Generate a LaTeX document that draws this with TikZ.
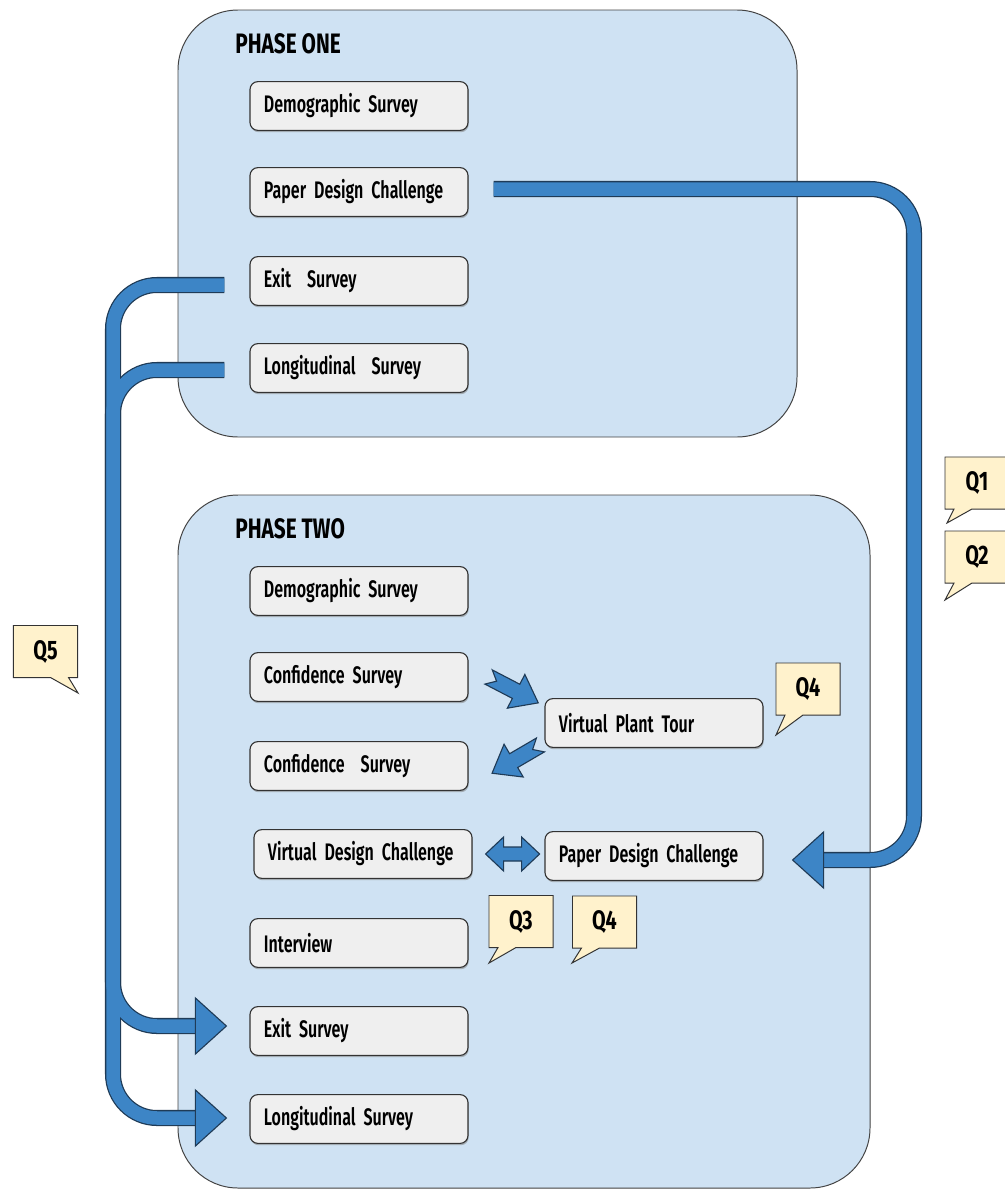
\documentclass[tikz,border=0pt]{standalone}
\usepackage{fontspec}
\setmainfont{Fira Sans}[FakeStretch=0.67, UprightFont=* SemiBold, BoldFont=* Bold]
\newfontfamily\headfont{Fira Sans}[FakeStretch=0.74, UprightFont=* Bold]
\usetikzlibrary{calc, shapes.callouts, shadows}

\definecolor{phasefill}{HTML}{CFE2F3}
\definecolor{phaseline}{HTML}{434343}
\definecolor{boxfill}{HTML}{EFEFEF}
\definecolor{boxline}{HTML}{333333}
\definecolor{flowblue}{HTML}{3D85C6}
\definecolor{flowline}{HTML}{1F3B57}
\definecolor{notefill}{HTML}{FFF2CC}

\tikzset{
	phase/.style={draw=phaseline, fill=phasefill, line width=0.7pt, rounded corners=1.5cm},
	phasetitle/.style={anchor=base west, inner sep=0pt, font=\fontsize{20}{22}\headfont},
	task/.style={draw=boxline, fill=boxfill, line width=0.8pt, rounded corners=0.2cm,
		minimum width=5.45cm, minimum height=1.22cm, text width=4.75cm, inner xsep=0.35cm,
		align=left, font=\fontsize{17}{19}\selectfont,
		drop shadow={shadow xshift=0.5pt, shadow yshift=-1.3pt, opacity=0.55}},
	note/.style={rectangle callout, draw=boxline, fill=notefill, line width=0.7pt,
		minimum width=1.6cm, minimum height=1.3cm, callout pointer width=0.45cm,
		font=\fontsize{19}{21}\headfont},
	shaftout/.style={draw=flowline, line width=11.4pt, rounded corners=1.1cm},
	shaftin/.style={draw=flowblue, line width=9.6pt, rounded corners=1.1cm},
	flowhead/.style={draw=flowline, fill=flowblue, line width=0.8pt, line join=miter},
	pics/bighead/.style={code={\draw[flowhead] (0,-28) -- (31,0) -- (0,28) -- cycle;}},
	pics/notchhead/.style={code={\draw[flowhead] (0,-8) -- (31,-8) -- (31,-19) -- (56,0)
		-- (31,19) -- (31,8) -- (0,8) -- (9,0) -- cycle;}},
	pics/twohead/.style={code={\draw[flowhead] (0,0) -- (18,-17) -- (18,-7) -- (36,-7)
		-- (36,-17) -- (54,0) -- (36,17) -- (36,7) -- (18,7) -- (18,17) -- cycle;}},
}

\begin{document}
\begin{tikzpicture}[x=0.025cm, y=-0.025cm]
	\clip (0,0) rectangle (1005,1190);
	
	% die beiden Phasen
	\draw[phase] (178,10) rectangle (797,437);
	\draw[phase] (178,495) rectangle (870,1188);
	\node[phasetitle] (t1) at (235,53) {PHASE ONE};
	\node[phasetitle] (t2) at (235,538) {PHASE TWO};
	
	% Phase 1
	\node[task] (p1demo) at (359,106) {Demographic Survey};
	\node[task] (p1paper) at (359,192) {Paper Design Challenge};
	\node[task] (p1exit) at (359,281) {Exit\ \ Survey};
	\node[task] (p1long) at (359,368) {Longitudinal\ \ Survey};
	
	% Phase 2
	\node[task] (p2demo) at (359,591) {Demographic Survey};
	\node[task] (p2conf) at (359,677) {Confidence Survey};
	\node[task] (p2conf2) at (359,766) {Confidence\ \ Survey};
	\node[task] (p2vdc) at (363,854) {Virtual Design Challenge};
	\node[task] (p2int) at (359,943) {Interview};
	\node[task] (p2exit) at (359,1031) {Exit Survey};
	\node[task] (p2long) at (359,1119) {Longitudinal Survey};
	\node[task] (tour) at (654,723) {Virtual Plant Tour};
	\node[task] (p2paper) at (654,856) {Paper Design Challenge};
	
	% dicke Pfeile
	\coordinate (rbase) at ($(p2paper.east)+(60,4)$);
	\coordinate (ebase) at ($(p2exit.west)+(-54,-5)$);
	\coordinate (lbase) at ($(p2long.west)+(-54,-1)$);
	\foreach \sty in {shaftout, shaftin} {
		\draw[\sty] ($(p1paper.east)+(25,-3)$) -| (914,500) |- (rbase);
		\draw[\sty] ($(p1exit.west)+(-25,4)$) -| (113,700) |- (ebase);
		\draw[\sty] ($(p1long.west)+(-25,2)$) -| (113,700) |- (lbase);
	}
	\pic[rotate=180] at (rbase) {bighead};
	\pic at (ebase) {bighead};
	\pic at (lbase) {bighead};
	
	% kleine Pfeile
	\pic[rotate=-27.5] at ($(p2conf.east)+(20,0)$) {notchhead};
	\pic[rotate=-149.7] at ($(tour.south west)+(-4,-3)$) {notchhead};
	\pic at ($(p2vdc.east)+(13,0)$) {twohead};
	
	% Fragen
	\node[note, callout absolute pointer={(947,523)}] (q1) at (977,483) {Q1};
	\node[note, callout absolute pointer={(945,600)}] (q2) at (977,557) {Q2};
	\node[note, callout absolute pointer={(78,693)}] (q5) at (45.5,651.5) {Q5};
	\node[note, callout absolute pointer={(776,735)}] (q4a) at (808,689) {Q4};
	\node[note, callout absolute pointer={(489,963)}] (q3) at (521,921.5) {Q3};
	\node[note, callout absolute pointer={(572,963)}] (q4b) at (604.5,922) {Q4};
\end{tikzpicture}
\end{document}
